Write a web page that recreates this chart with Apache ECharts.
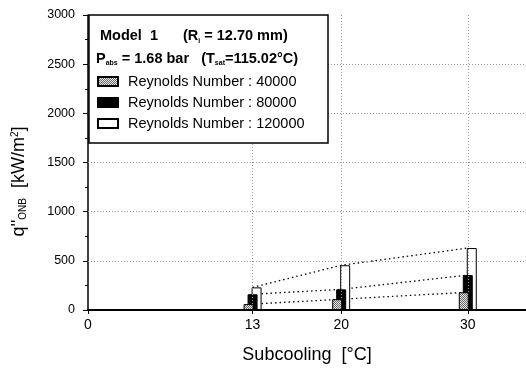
<!DOCTYPE html>
<html>
<head>
<meta charset="utf-8">
<script src="https://cdn.jsdelivr.net/npm/echarts@6/dist/echarts.min.js"></script>
<style>
    html, body { margin: 0; padding: 0; background: #fff; }
    #chart { width: 526px; height: 370px; }
</style>
</head>
<body>
<div id="chart"></div>
<script>
// subcooling [°C]
const subcooling = [13, 20, 30];
// q''ONB [kW/m2] per Reynolds number
const re40000 = [60, 110, 180];
const re80000 = [160, 210, 355];
const re120000 = [230, 455, 630];
const seriesNames = ['Reynolds Number : 40000', 'Reynolds Number : 80000', 'Reynolds Number : 120000'];
const xTickValues = [0, 13, 20, 30];
const xGridValues = [13, 20, 30];
const yGridValues = [500, 1000, 1500, 2000, 2500];

const font = 'Liberation Sans, Arial, sans-serif';

// stipple fill for the first series
const pat = document.createElement('canvas');
pat.width = 2;
pat.height = 2;
const pctx = pat.getContext('2d');
pctx.fillStyle = '#e6e6e6';
pctx.fillRect(0, 0, 2, 2);
pctx.fillStyle = '#6a6a6a';
pctx.fillRect(0, 0, 1, 1);
pctx.fillRect(1, 1, 1, 1);

const pairs = (ys) => subcooling.map((x, i) => [x, ys[i]]);

const barFills = [{ image: pat, repeat: 'repeat' }, '#000', '#fff'];
const allValues = [re40000, re80000, re120000];
// front to back: stippled, black, white
const barZ = [5, 4, 3];

const bars = allValues.map((vals, i) => ({
    name: seriesNames[i],
    type: 'bar',
    data: pairs(vals),
    barWidth: 10,
    barGap: '-60%',
    z: barZ[i],
    silent: true,
    itemStyle: { color: barFills[i], borderColor: '#000', borderWidth: 1 }
}));

const lines = allValues.map((vals, i) => ({
    name: 'trend' + i,
    type: 'line',
    data: pairs(vals),
    showSymbol: false,
    z: 1,
    silent: true,
    lineStyle: { color: '#000', width: 1.3, type: [1.5, 3] }
}));

const gridLines = {
    name: 'grid',
    type: 'line',
    data: [],
    z: 0,
    silent: true,
    markLine: {
        silent: true,
        symbol: 'none',
        label: { show: false },
        lineStyle: { color: '#999', width: 1, type: [1, 2] },
        data: xGridValues.map(v => ({ xAxis: v })).concat(yGridValues.map(v => ({ yAxis: v })))
    }
};

const headRich = {
    b: { fontFamily: font, fontSize: 14.5, fontWeight: 'bold', color: '#000', lineHeight: 17 },
    s: { fontFamily: font, fontSize: 7, fontWeight: 'bold', color: '#000', lineHeight: 6, verticalAlign: 'bottom' }
};

const option = {
    animation: false,
    backgroundColor: '#fff',
    textStyle: { fontFamily: font, color: '#000' },
    grid: { left: 88, right: 0, top: 15, bottom: 60, outerBoundsMode: 'none' },
    title: [
        {
            left: 100, top: 27, padding: 0, z: 8,
            text: '{b|Model  1}     {b|(R}{s|i}{b| = 12.70 mm)}',
            textStyle: { rich: headRich }
        },
        {
            left: 96, top: 50, padding: 0, z: 8,
            text: '{b|P}{s|abs}{b| = 1.68 bar   (T}{s|sat}{b|=115.02°C)}',
            textStyle: { rich: headRich }
        }
    ],
    legend: {
        data: seriesNames,
        orient: 'vertical',
        left: 97,
        top: 74,
        padding: 0,
        itemGap: 6,
        itemWidth: 20,
        itemHeight: 9,
        icon: 'rect',
        selectedMode: false,
        z: 8,
        textStyle: { fontFamily: font, fontSize: 14.5, color: '#000', lineHeight: 14, padding: [0, 0, 0, 5] }
    },
    graphic: [
        {
            type: 'rect',
            z: 7,
            shape: { x: 89, y: 15, width: 239, height: 128 },
            style: { fill: '#fff', stroke: '#000', lineWidth: 1.5 }
        }
    ],
    xAxis: {
        type: 'value',
        min: 0,
        max: 34.6,
        name: 'Subcooling  [°C]',
        nameLocation: 'middle',
        nameGap: 36,
        nameTextStyle: { fontFamily: font, fontSize: 18, color: '#000' },
        splitLine: { show: false },
        axisLine: { lineStyle: { color: '#000', width: 2 } },
        axisTick: { customValues: xTickValues, length: 4, lineStyle: { color: '#000' } },
        axisLabel: { customValues: xTickValues, fontFamily: font, fontSize: 14, color: '#000', margin: 8 }
    },
    yAxis: {
        type: 'value',
        min: 0,
        max: 3000,
        interval: 500,
        name: 'q\'\'{sub|ONB}  [kW/m{sup|2}]',
        nameLocation: 'middle',
        nameRotate: 90,
        nameGap: 60,
        nameTextStyle: {
            fontFamily: font, fontSize: 18, color: '#000',
            padding: [0, 38, 0, 0],
            rich: {
                sub: { fontFamily: font, fontSize: 10, color: '#000', lineHeight: 9, verticalAlign: 'bottom' },
                sup: { fontFamily: font, fontSize: 10, color: '#000', lineHeight: 9, verticalAlign: 'top' }
            }
        },
        splitLine: { show: false },
        axisLine: { show: true, lineStyle: { color: '#000', width: 1.5 } },
        axisTick: { length: 5, lineStyle: { color: '#000' } },
        minorTick: { show: true, splitNumber: 2, length: 3, lineStyle: { color: '#000' } },
        axisLabel: { fontFamily: font, fontSize: 12.5, color: '#000', margin: 13, formatter: v => String(v) }
    },
    series: [gridLines].concat(lines, bars)
};

const chart = echarts.init(document.getElementById('chart'));
chart.setOption(option);
</script>
</body>
</html>
